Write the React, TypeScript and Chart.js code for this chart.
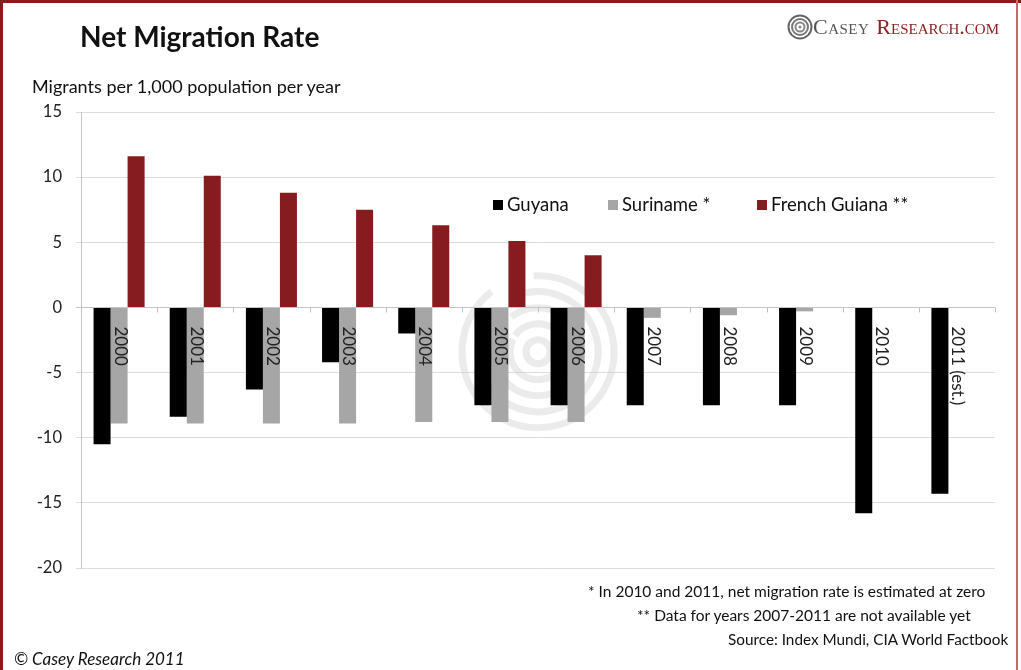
import React, { useEffect, useRef } from "react";
import { Chart, registerables } from "chart.js";

Chart.register(...registerables);

const categories = ["2000", "2001", "2002", "2003", "2004", "2005", "2006", "2007", "2008", "2009", "2010", "2011 (est.)"];
const guyana = [-10.5, -8.4, -6.3, -4.2, -2.0, -7.5, -7.5, -7.5, -7.5, -7.5, -15.8, -14.3];
const suriname = [-8.9, -8.9, -8.9, -8.9, -8.8, -8.8, -8.8, -0.8, -0.6, -0.3, 0, 0];
const frenchGuiana = [11.6, 10.1, 8.8, 7.5, 6.3, 5.1, 4.0, null, null, null, null, null];
const seriesNames = ["Guyana", "Suriname *", "French Guiana **"];
const seriesColors = ["#000000", "#a6a6a6", "#861c1f"];
const yTicks = [15, 10, 5, 0, -5, -10, -15, -20];

const FONT = "Lato, 'Open Sans', sans-serif";

const overlayPlugin = {
  id: "overlay",
  beforeDatasetsDraw(chart: any) {
    const ctx = chart.ctx;
    const cx = (chart.scales.x.getPixelForValue(5) + chart.scales.x.getPixelForValue(6)) / 2;
    const cy = chart.scales.y.getPixelForValue(-3.4);
    ctx.save();
    ctx.strokeStyle = "rgba(205,205,205,0.4)";
    ctx.lineWidth = 7;
    const radii = [12, 28, 44, 60, 76];
    radii.forEach((r, i) => {
      ctx.beginPath();
      ctx.arc(cx, cy, r, -Math.PI * 0.9 + i * 0.3, Math.PI * 1.1 + i * 0.15);
      ctx.stroke();
    });
    ctx.restore();
  },
  afterDatasetsDraw(chart: any) {
    const ctx = chart.ctx;
    const xs = chart.scales.x;
    const ys = chart.scales.y;
    const y0 = ys.getPixelForValue(0);
    const half = (xs.getPixelForValue(1) - xs.getPixelForValue(0)) / 2;
    ctx.save();
    ctx.strokeStyle = "#bfbfbf";
    ctx.lineWidth = 1;
    for (let i = 0; i <= categories.length; i++) {
      const x = Math.round(xs.getPixelForValue(0) - half + i * 2 * half) + 0.5;
      ctx.beginPath();
      ctx.moveTo(x, y0);
      ctx.lineTo(x, y0 + 5);
      ctx.stroke();
    }
    ctx.fillStyle = "#222";
    ctx.font = `17px ${FONT}`;
    ctx.textAlign = "left";
    ctx.textBaseline = "middle";
    categories.forEach((c, i) => {
      const x = xs.getPixelForValue(i);
      ctx.save();
      ctx.translate(x + 1, y0 + 19);
      ctx.rotate(Math.PI / 2);
      ctx.fillText(c, 0, 0);
      ctx.restore();
    });
    const legendX = [493, 608, 757];
    const ly = 205;
    ctx.font = `18.5px ${FONT}`;
    seriesNames.forEach((n, i) => {
      ctx.fillStyle = seriesColors[i];
      ctx.fillRect(legendX[i], ly - 5, 10, 10);
      ctx.fillStyle = "#111";
      ctx.fillText(n, legendX[i] + 14, ly);
    });
    ctx.restore();
  },
};

export default function App() {
  const ref = useRef<HTMLCanvasElement | null>(null);
  useEffect(() => {
    if (!ref.current) return;
    const chart = new Chart(ref.current, {
      type: "bar",
      data: {
        labels: categories,
        datasets: [
          { label: seriesNames[0], data: guyana, backgroundColor: seriesColors[0] },
          { label: seriesNames[1], data: suriname, backgroundColor: seriesColors[1] },
          { label: seriesNames[2], data: frenchGuiana as any, backgroundColor: seriesColors[2] },
        ],
      },
      options: {
        animation: false,
        responsive: false,
        maintainAspectRatio: false,
        layout: { padding: { left: 0, top: 112, right: 26, bottom: 102 } },
        plugins: { legend: { display: false }, tooltip: { enabled: false } },
        datasets: { bar: { categoryPercentage: 0.67, barPercentage: 1.0 } },
        scales: {
          x: { display: false, offset: true },
          y: {
            min: -20,
            max: 15,
            afterFit: (s: any) => {
              s.width = 81;
            },
            afterBuildTicks: (s: any) => {
              s.ticks = yTicks.map((v) => ({ value: v }));
            },
            ticks: {
              padding: 14,
              color: "#222",
              font: { family: FONT, size: 16.5 },
            },
            grid: {
              color: (c: any) => (c.tick && c.tick.value === 0 ? "#c4c4c4" : "#dcdcdc"),
              tickLength: 5,
            },
            border: { display: true, color: "#c4c4c4" },
          },
        },
      },
      plugins: [overlayPlugin],
    } as any);
    return () => chart.destroy();
  }, []);

  const serif = "'Liberation Serif', 'DejaVu Serif', serif";
  return (
    <div
      style={{
        position: "absolute",
        left: 0,
        top: 0,
        width: 1021,
        height: 670,
        background: "#fff",
        overflow: "hidden",
        fontFamily: FONT,
      }}
    >
      <div style={{ position: "absolute", left: 0, top: 0, width: 1021, height: 3, background: "#8b1a1a" }} />
      <div style={{ position: "absolute", left: 0, top: 0, width: 3, height: 670, background: "#8b1a1a" }} />
      <div style={{ position: "absolute", left: 1016, top: 0, width: 2, height: 670, background: "#c46a6a" }} />
      <canvas ref={ref} width={1021} height={670} style={{ position: "absolute", left: 0, top: 0 }} />
      <div style={{ position: "absolute", left: 80, top: 19, fontSize: 28, fontWeight: 700, color: "#111", whiteSpace: "nowrap" }}>
        Net Migration Rate
      </div>
      <div style={{ position: "absolute", left: 32, top: 75, fontSize: 18, color: "#111", whiteSpace: "nowrap" }}>
        Migrants per 1,000 population per year
      </div>
      <div style={{ position: "absolute", left: 787, top: 14, display: "flex", alignItems: "center", whiteSpace: "nowrap" }}>
        <svg width="26" height="26" viewBox="0 0 26 26">
          <circle cx="13" cy="13" r="11.5" fill="none" stroke="#666" strokeWidth="2" />
          <circle cx="13" cy="13" r="8" fill="none" stroke="#777" strokeWidth="2" />
          <circle cx="13" cy="13" r="4.5" fill="none" stroke="#888" strokeWidth="2" />
          <circle cx="13" cy="13" r="1.5" fill="#888" />
        </svg>
        <span style={{ fontFamily: serif, fontVariant: "small-caps", fontSize: 22, color: "#555", marginLeft: 0, letterSpacing: 0.5 }}>
          Casey
        </span>
        <span style={{ fontFamily: serif, fontVariant: "small-caps", fontSize: 22, color: "#8b2323", marginLeft: 7 }}>
          Research.com
        </span>
      </div>
      <div style={{ position: "absolute", left: 588, top: 582, fontSize: 15.5, color: "#111", whiteSpace: "nowrap" }}>
        * In 2010 and 2011, net migration rate is estimated at zero
      </div>
      <div style={{ position: "absolute", left: 637, top: 606, fontSize: 15.5, color: "#111", whiteSpace: "nowrap" }}>
        ** Data for years 2007-2011 are not available yet
      </div>
      <div style={{ position: "absolute", left: 728, top: 630, fontSize: 15.3, color: "#111", whiteSpace: "nowrap" }}>
        Source: Index Mundi, CIA World Factbook
      </div>
      <div style={{ position: "absolute", left: 14, top: 648, fontSize: 17, fontStyle: "italic", color: "#111", whiteSpace: "nowrap" }}>
        © Casey Research 2011
      </div>
    </div>
  );
}
